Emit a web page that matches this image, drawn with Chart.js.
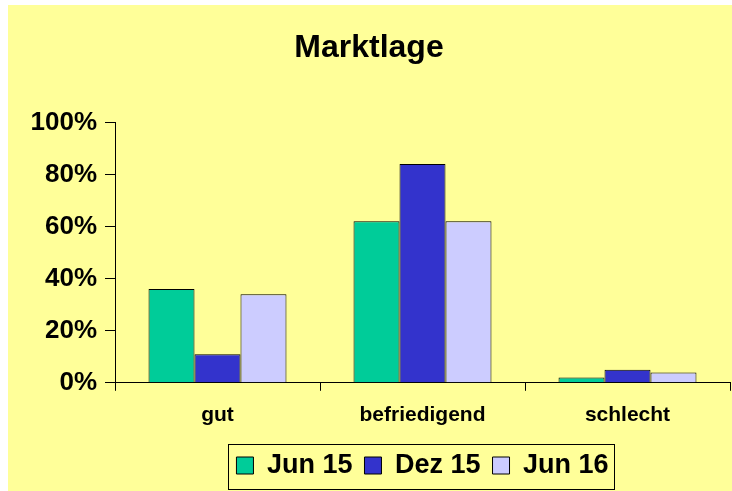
<!DOCTYPE html>
<html>
<head>
<meta charset="utf-8">
<script src="https://cdn.jsdelivr.net/npm/chart.js@4"></script>
<style>
  html, body { margin: 0; padding: 0; background: #ffffff; }
  #wrap { position: absolute; left: 8px; top: 5px; width: 724px; height: 486px; background: #FFFF99; }
</style>
</head>
<body>
<div id="wrap"><canvas id="barChart"></canvas></div>
<script>
const categories = ["gut", "befriedigend", "schlecht"];
const jun15 = [36, 62, 2];
const dez15 = [11, 84, 5];
const jun16 = [34, 62, 4];
const yTicks = [0, 20, 40, 60, 80, 100];

const FONT = "'Liberation Sans', Arial, sans-serif";

// frame around the legend, like the original
const legendBox = {
  id: 'legendBox',
  afterDraw(chart) {
    const boxes = chart.legend.legendHitBoxes;
    if (!boxes || !boxes.length) return;
    const left = Math.min(...boxes.map(b => b.left));
    const right = Math.max(...boxes.map(b => b.left + b.width));
    const top = Math.min(...boxes.map(b => b.top));
    const bottom = Math.max(...boxes.map(b => b.top + b.height));
    const c = chart.ctx;
    c.save();
    c.strokeStyle = '#000';
    c.lineWidth = 1;
    c.strokeRect(Math.round(left - 8) + 0.5, Math.round(top - 8) + 0.5,
      Math.round(right - left + 14), Math.round(bottom - top + 18));
    c.restore();
  }
};

const ctx = document.getElementById('barChart');

new Chart(ctx, {
  type: 'bar',
  data: {
    labels: categories,
    datasets: [
      { label: 'Jun 15', data: jun15, backgroundColor: '#00CC99' },
      { label: 'Dez 15', data: dez15, backgroundColor: '#3333CC' },
      { label: 'Jun 16', data: jun16, backgroundColor: '#CCCCFF' }
    ].map(ds => Object.assign(ds, {
      borderColor: '#000',
      borderWidth: 1,
      borderSkipped: 'bottom',
      categoryPercentage: 0.673,
      barPercentage: 1
    }))
  },
  options: {
    responsive: true,
    maintainAspectRatio: false,
    animation: false,
    layout: { padding: { left: 0, right: 2, top: 0, bottom: 2 } },
    plugins: {
      title: {
        display: true,
        text: 'Marktlage',
        color: '#000',
        font: { family: FONT, size: 32, weight: 'bold' },
        padding: { top: 24, bottom: 55 }
      },
      legend: {
        position: 'bottom',
        fullSize: false,
        labels: {
          color: '#000',
          font: { family: FONT, size: 27, weight: 'bold' },
          boxWidth: 17,
          boxHeight: 17,
          padding: 12
        }
      },
      tooltip: { enabled: false }
    },
    scales: {
      y: {
        min: 0,
        max: 100,
        afterBuildTicks: (scale) => { scale.ticks = yTicks.map(v => ({ value: v })); },
        afterFit: (scale) => { scale.width = 107; },
        ticks: {
          color: '#000',
          padding: 8,
          font: { family: FONT, size: 26, weight: 'bold' },
          callback: (v) => v + '%'
        },
        grid: { drawOnChartArea: false, tickLength: 10, color: '#000' },
        border: { display: true, color: '#000', width: 1 }
      },
      x: {
        ticks: {
          color: '#000',
          padding: 12,
          font: { family: FONT, size: 21, weight: 'bold' }
        },
        grid: { drawOnChartArea: false, tickLength: 8, color: '#000', offset: true },
        border: { display: true, color: '#000', width: 1 }
      }
    }
  },
  plugins: [legendBox]
});
</script>
</body>
</html>
